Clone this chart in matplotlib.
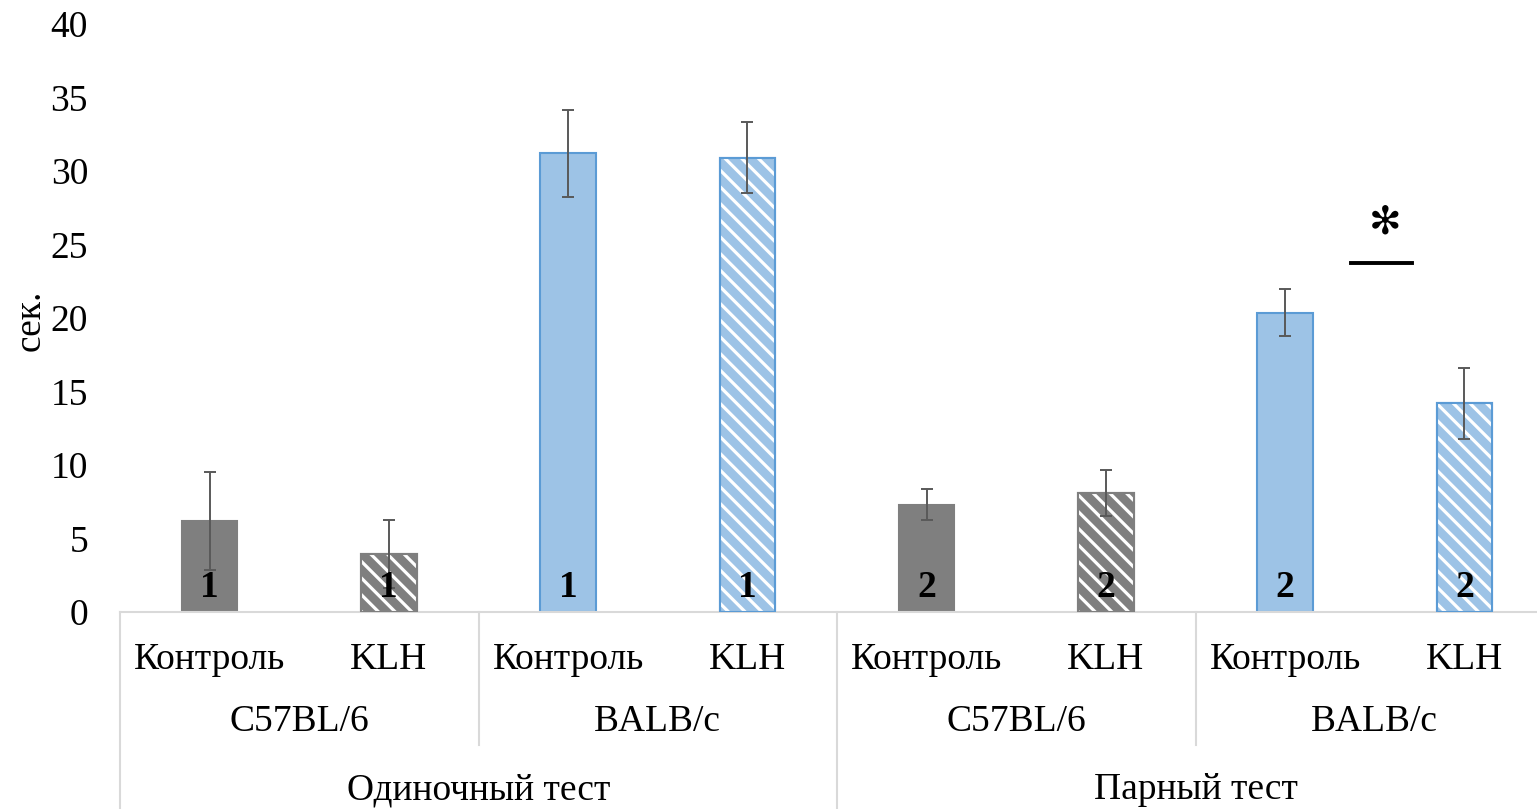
import matplotlib
matplotlib.use("Agg")
import matplotlib.pyplot as plt
from matplotlib.transforms import blended_transform_factory
import numpy as np

plt.rcParams['font.family'] = ['Liberation Serif', 'DejaVu Serif']
plt.rcParams['hatch.linewidth'] = 2.3

categories = ["Контроль", "KLH", "Контроль", "KLH", "Контроль", "KLH", "Контроль", "KLH"]
strains = ["C57BL/6", "BALB/c", "C57BL/6", "BALB/c"]
tests = ["Одиночный тест", "Парный тест"]
values = [6.2, 3.95, 31.2, 30.9, 7.3, 8.1, 20.35, 14.2]
errors = [3.35, 2.3, 2.95, 2.4, 1.05, 1.55, 1.6, 2.4]
bar_labels = ["1", "1", "1", "1", "2", "2", "2", "2"]
hatched = [False, True, False, True, False, True, False, True]
is_blue = [False, False, True, True, False, False, True, True]
yticks = [0, 5, 10, 15, 20, 25, 30, 35, 40]

W, H = 1537, 809
FS = 27
fig = plt.figure(figsize=(W / 100, H / 100), dpi=100)
ax = fig.add_axes([120 / W, (H - 612) / H, 1434 / W, 588 / H])

x = np.arange(len(values))
bw = 0.31
gray = "#7f7f7f"
blue = "#9dc3e6"
blue_edge = "#5b9bd5"
for i in range(len(values)):
    fc = blue if is_blue[i] else gray
    ec = blue_edge if is_blue[i] else gray
    ax.bar(x[i], values[i], width=bw, color=fc, edgecolor=ec, linewidth=1.5, zorder=2)
    if hatched[i]:
        ax.bar(x[i], values[i], width=bw, fill=False, edgecolor="white", hatch="\\\\",
               linewidth=0, zorder=3)
        ax.bar(x[i], values[i], width=bw, fill=False, edgecolor=ec, linewidth=1.5, zorder=4)
    ax.text(x[i], 1.65, bar_labels[i], ha="center", va="center", fontsize=FS,
            fontweight="bold", color="black", zorder=6)

ax.errorbar(x, values, yerr=errors, fmt="none", ecolor="#595959", elinewidth=1.4,
            capsize=4.3, capthick=1.4, zorder=5)

# significance mark
ax.plot([6.37, 6.71], [23.75, 23.75], color="black", lw=2.8, zorder=6)
ax.text(6.56, 26.5, "\u273b", ha="center", va="center", fontsize=28,
        family="DejaVu Sans", color="black")

ax.set_xlim(-0.5, 7.5)
ax.set_ylim(0, 40)
ax.set_yticks(yticks)
ax.set_xticks([])
ax.tick_params(axis="y", length=0, pad=23, labelsize=FS)
for s in ["top", "right", "left"]:
    ax.spines[s].set_visible(False)
ax.spines["bottom"].set_color("#d9d9d9")
ax.spines["bottom"].set_linewidth(1.5)

fig.text(30 / W, 1 - 320 / H, "сек.", rotation=90, ha="center", va="center", fontsize=FS)

tr = blended_transform_factory(ax.transData, fig.transFigure)
for i, c in enumerate(categories):
    ax.text(x[i], 1 - 660 / H, c, transform=tr, ha="center", va="center", fontsize=FS)
for j, s in enumerate(strains):
    ax.text(2 * j + 0.5, 1 - 722 / H, s, transform=tr, ha="center", va="center", fontsize=FS)
for k, t in enumerate(tests):
    ax.text(4 * k + 1.5, 1 - 790 / H, t, transform=tr, ha="center", va="center", fontsize=FS)

# divider lines
for xd in [-0.5, 3.5, 7.5]:
    ax.plot([xd, xd], [1 - 612 / H, 0], transform=tr, color="#d9d9d9", lw=1.5, clip_on=False)
for xd in [1.5, 5.5]:
    ax.plot([xd, xd], [1 - 612 / H, 1 - 745 / H], transform=tr, color="#d9d9d9", lw=1.5,
            clip_on=False)

fig.savefig("out.png", dpi=100)
